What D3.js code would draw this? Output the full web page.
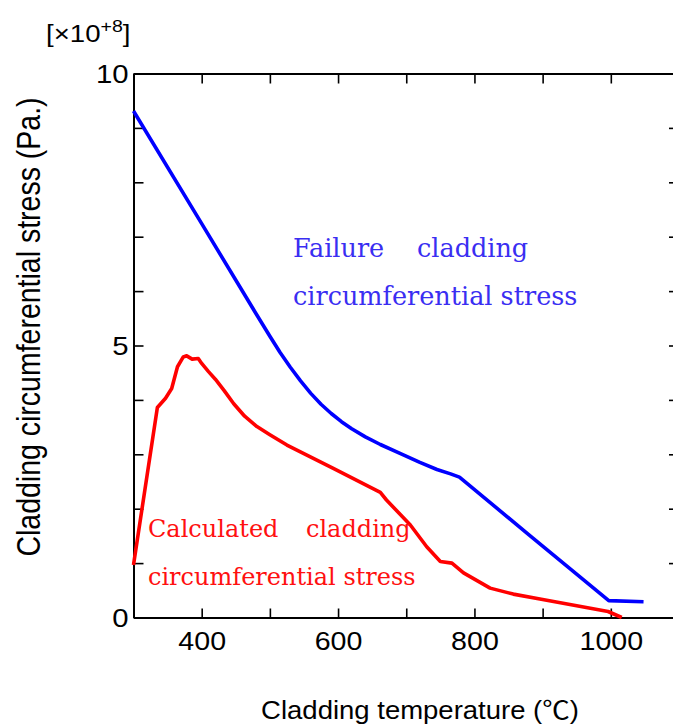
<!DOCTYPE html>
<html>
<head>
<meta charset="utf-8">
<script src="https://cdn.jsdelivr.net/npm/d3@7"></script>
<style>
  body { margin: 0; background: #fff; }
  .axis path, .axis line { stroke: #000; }
  .axis text { font-family: "Liberation Sans", Arial, sans-serif; fill: #000; }
</style>
</head>
<body>
<svg id="chart" width="673" height="726"></svg>
<script>
// Failure cladding circumferential stress (×10^8 Pa) vs cladding temperature (°C)
const failureTemp   = [300, 400, 480, 500, 515, 530, 545, 560, 575, 590, 605, 620, 640, 662, 690, 720, 745, 765, 778, 880, 997, 1048];
const failureStress = [9.31, 7.24, 5.58, 5.17, 4.87, 4.60, 4.35, 4.12, 3.92, 3.75, 3.60, 3.47, 3.32, 3.18, 3.02, 2.85, 2.72, 2.64, 2.58, 1.52, 0.31, 0.29];

// Calculated cladding circumferential stress (×10^8 Pa)
const calcTemp   = [300, 335, 347, 356, 364.5, 373, 378, 386, 395, 400, 410, 420, 433, 447, 463, 481, 500, 525, 593, 662, 671, 706, 730, 750, 767, 784, 823, 857, 896, 996, 1016];
const calcStress = [0.965, 3.86, 4.03, 4.21, 4.61, 4.79, 4.81, 4.75, 4.76, 4.67, 4.52, 4.38, 4.17, 3.93, 3.70, 3.51, 3.36, 3.17, 2.74, 2.30, 2.16, 1.70, 1.30, 1.03, 1.00, 0.82, 0.54, 0.43, 0.34, 0.11, 0.0];

const xTickValues = [300, 400, 500, 600, 700, 800, 900, 1000, 1100];
const xTickLabels = [400, 600, 800, 1000];
const yTickValues = [0, 1, 2, 3, 4, 5, 6, 7, 8, 9, 10];
const yTickLabels = [0, 5, 10];

const svg = d3.select("#chart");

const x = d3.scaleLinear().domain([300, 1100]).range([133.5, 679]);
const y = d3.scaleLinear().domain([0, 10]).range([617.5, 73.5]);

// Sans text in this figure is set slightly wide
const WIDE = 1.15;

// Frame: four axes with inward ticks
const fmtX = d => xTickLabels.includes(d) ? String(d) : "";
const fmtY = d => yTickLabels.includes(d) ? String(d) : "";

const gBottom = svg.append("g").attr("class", "axis")
  .attr("transform", `translate(0,${y(0)})`)
  .call(d3.axisBottom(x).tickValues(xTickValues).tickSizeInner(-9).tickSizeOuter(0).tickFormat(fmtX));
gBottom.selectAll(".tick text")
  .attr("y", 0).attr("dy", "0.72em").attr("font-size", 26)
  .attr("transform", `translate(0,14) scale(1.1,1)`);

const gLeft = svg.append("g").attr("class", "axis")
  .attr("transform", `translate(${x(300)},0)`)
  .call(d3.axisLeft(y).tickValues(yTickValues).tickSizeInner(-10).tickSizeOuter(0).tickFormat(fmtY));
gLeft.selectAll(".tick text")
  .attr("x", 0).attr("dy", "0.36em").attr("font-size", 25.5)
  .attr("transform", `translate(-5,0) scale(${WIDE},1)`);

svg.append("g").attr("class", "axis")
  .attr("transform", `translate(0,${y(10)})`)
  .call(d3.axisTop(x).tickValues(xTickValues).tickSizeInner(-10).tickSizeOuter(0).tickFormat(""));

svg.append("g").attr("class", "axis")
  .attr("transform", `translate(${x(1100)},0)`)
  .call(d3.axisRight(y).tickValues(yTickValues).tickSizeInner(-10).tickSizeOuter(0).tickFormat(""));

svg.selectAll(".axis path.domain").attr("stroke-width", 2);
svg.selectAll(".axis .tick line").attr("stroke-width", 1.6);

// Curves
const line = d3.line().x(d => x(d[0])).y(d => y(d[1]));

svg.append("path")
  .datum(failureTemp.map((t, i) => [t, failureStress[i]]))
  .attr("d", line)
  .attr("fill", "none")
  .attr("stroke", "#0000ff")
  .attr("stroke-width", 3.6)
  .attr("stroke-linejoin", "round");

svg.append("path")
  .datum(calcTemp.map((t, i) => [t, calcStress[i]]))
  .attr("d", line)
  .attr("fill", "none")
  .attr("stroke", "#ff0000")
  .attr("stroke-width", 3.6)
  .attr("stroke-linejoin", "round");

// Curve annotations
const serif = '"DejaVu Serif", "Liberation Serif", serif';
const blueText = "#3a2ef2";
const redText = "#ff1010";

function note(str, px, py, size, color) {
  svg.append("text").attr("x", px).attr("y", py)
    .attr("font-family", serif).attr("font-size", size).attr("fill", color)
    .text(str);
}
note("Failure", 293, 257, 25.5, blueText);
note("cladding", 417, 257, 25.5, blueText);
note("circumferential stress", 293, 305, 25.5, blueText);
note("Calculated", 148, 537, 24, redText);
note("cladding", 306, 537, 24, redText);
note("circumferential stress", 148, 585, 24, redText);

// Axis titles
const sans = '"Liberation Sans", Arial, "Noto Sans CJK JP", sans-serif';

svg.append("text")
  .attr("transform", `translate(40,327) rotate(-90) scale(1,1.15)`)
  .attr("text-anchor", "middle")
  .attr("font-family", sans).attr("font-size", 28.5)
  .text("Cladding circumferential stress (Pa.)");

svg.append("text")
  .attr("transform", `translate(420,719) scale(1.1,1)`)
  .attr("text-anchor", "middle")
  .attr("font-family", sans).attr("font-size", 25)
  .text("Cladding temperature (℃)");

// Scale factor label
const exp = svg.append("text")
  .attr("transform", `translate(46,42) scale(${WIDE},1)`)
  .attr("font-family", sans).attr("font-size", 24);
exp.append("tspan").text("[×10");
exp.append("tspan").attr("dy", -10).attr("font-size", 17).text("+8");
exp.append("tspan").attr("dy", 10).text("]");
</script>
</body>
</html>
